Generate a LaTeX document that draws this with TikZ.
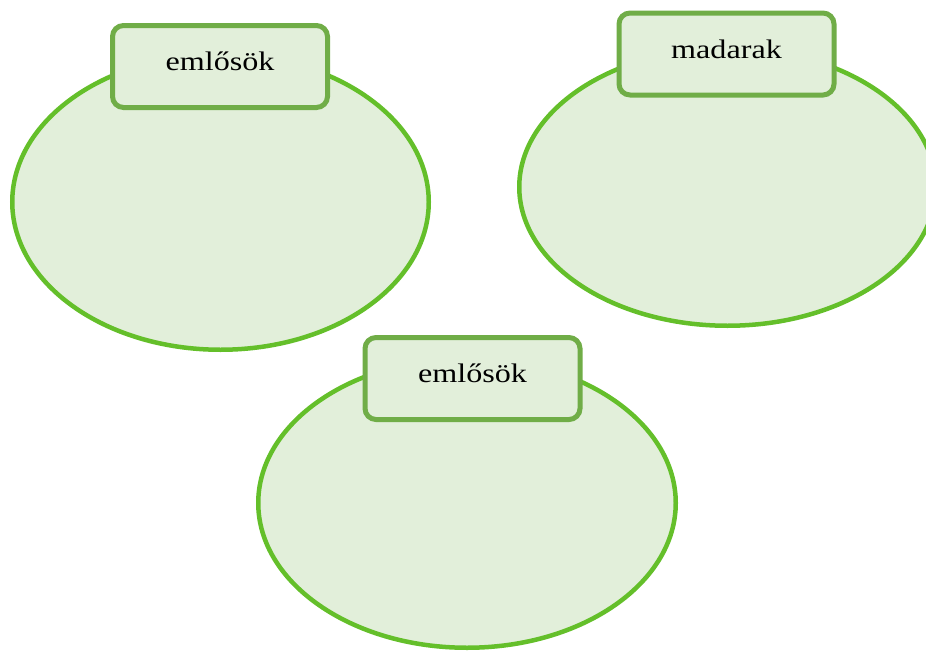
\documentclass[tikz,border=0pt]{standalone}
\usepackage{fontspec}
\newfontfamily\labelfont[FakeStretch=1.2]{Liberation Serif}
\definecolor{setfill}{HTML}{E2EFDA}
\definecolor{setline}{HTML}{64BF2A}
\definecolor{tagline}{HTML}{70AD47}
\tikzset{
    setshape/.style={ellipse, draw=setline, fill=setfill, line width=4.5pt, inner sep=0pt},
    tagbox/.style={draw=tagline, fill=setfill, line width=5pt, rounded corners=11pt,
        minimum width=215pt, minimum height=82pt, inner sep=0pt,
        text depth=0pt, text height=8pt, font=\labelfont\fontsize{26.8}{30}\selectfont}
}
\usetikzlibrary{shapes.geometric}
\begin{document}
\begin{tikzpicture}[x=1pt, y=-1pt]
        \useasboundingbox (0,0) rectangle (926,653);
        \clip (0,0) rectangle (926,653);
        \node[setshape, minimum width=416.5pt, minimum height=295.5pt] (mammals1) at (220.5,202) {};
        \node[setshape, minimum width=416.5pt, minimum height=277.5pt] (birds) at (727.5,187) {};
        \node[setshape, minimum width=417.5pt, minimum height=289.5pt] (mammals2) at (467,503) {};

        \node[tagbox] (mammals1tag) at (220,66.5) {emlősök};
        \node[tagbox] (birdstag) at (726.5,54) {madarak};
        \node[tagbox] (mammals2tag) at (472.5,378.5) {emlősök};
    \end{tikzpicture}
\end{document}
